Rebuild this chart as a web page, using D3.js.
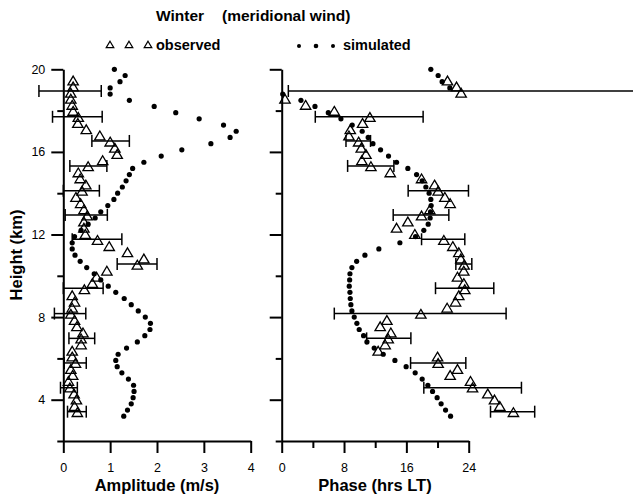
<!DOCTYPE html>
<html>
<head>
<meta charset="utf-8">
<script src="https://cdn.jsdelivr.net/npm/d3@7"></script>
<style>
  html, body { margin: 0; padding: 0; background: #fff; }
  svg { display: block; font-family: "Liberation Sans", Arial, Helvetica, sans-serif; }
</style>
</head>
<body>
<svg id="chart" width="633" height="498"></svg>
<script>
// ---------- data ----------
// simulated profile heights (km)
const simHeights = [20.0, 19.7, 19.4, 19.1, 18.8, 18.5, 18.2, 17.9, 17.6, 17.3,
  17.0, 16.7, 16.4, 16.1, 15.8, 15.5, 15.2, 14.9, 14.6, 14.3,
  14.0, 13.7, 13.4, 13.1, 12.8, 12.5, 12.2, 11.9, 11.6, 11.3,
  11.0, 10.7, 10.4, 10.1, 9.8, 9.5, 9.2, 8.9, 8.6, 8.3,
  8.0, 7.7, 7.4, 7.1, 6.8, 6.5, 6.2, 5.9, 5.6, 5.3,
  5.0, 4.7, 4.4, 4.1, 3.8, 3.5, 3.2];
// simulated amplitude (m/s)
const simAmplitude = [1.09, 1.32, 1.21, 1.00, 1.00, 1.41, 1.94, 2.40, 2.90, 3.42,
  3.69, 3.56, 3.15, 2.53, 2.09, 1.72, 1.48, 1.41, 1.34, 1.26,
  1.16, 1.08, 0.95, 0.80, 0.68, 0.53, 0.38, 0.24, 0.19, 0.19,
  0.25, 0.36, 0.50, 0.66, 0.80, 0.96, 1.12, 1.30, 1.45, 1.60,
  1.75, 1.86, 1.85, 1.74, 1.58, 1.35, 1.17, 1.12, 1.15, 1.25,
  1.39, 1.50, 1.51, 1.49, 1.45, 1.37, 1.29];
// simulated phase (hrs LT)
const simPhase = [19.14, 20.08, 20.59, 21.58, 0.13, 2.47, 4.27, 5.98, 7.60, 9.05,
  10.33, 11.10, 11.71, 12.69, 13.71, 14.74, 16.19, 17.31, 18.03, 18.50,
  18.92, 19.14, 19.18, 19.10, 19.05, 18.80, 18.24, 17.18, 15.17, 12.47,
  10.68, 9.62, 9.01, 8.76, 8.72, 8.67, 8.76, 8.80, 8.88, 9.01,
  9.31, 9.65, 9.95, 10.51, 10.94, 11.87, 13.03, 14.53, 15.97, 17.13,
  18.03, 18.76, 19.36, 19.95, 20.46, 21.03, 21.67];

// observed profile heights (km)
const obsHeights = [19.42, 19.13, 18.83, 18.54, 18.24, 17.95, 17.65, 17.36, 17.06, 16.76,
  16.46, 16.16, 15.86, 15.56, 15.27, 14.97, 14.68, 14.38, 14.08, 13.78,
  13.48, 13.18, 12.88, 12.59, 12.29, 11.99, 11.70, 11.40, 11.10, 10.80,
  10.50, 10.21, 9.92, 9.61, 9.31, 9.02, 8.71, 8.42, 8.12, 7.82,
  7.52, 7.22, 6.93, 6.64, 6.33, 6.05, 5.74, 5.45, 5.16, 4.87,
  4.55, 4.26, 3.97, 3.66, 3.36];
// observed amplitude (m/s)
const obsAmplitude = [0.21, 0.21, 0.16, 0.16, 0.19, 0.21, 0.32, 0.31, 0.49, 0.78,
  1.00, 1.10, 1.15, 0.84, 0.53, 0.32, 0.36, 0.48, 0.40, 0.27,
  0.37, 0.44, 0.51, 0.44, 0.44, 0.47, 0.73, 0.98, 1.37, 1.72,
  1.58, 0.93, 0.71, 0.62, 0.45, 0.19, 0.24, 0.19, 0.16, 0.24,
  0.29, 0.42, 0.38, 0.38, 0.19, 0.19, 0.26, 0.16, 0.20, 0.11,
  0.14, 0.23, 0.28, 0.24, 0.30];
// observed phase (hrs LT)
const obsPhase = [21.28, 22.44, 23.03, 0.42, 3.07, 6.75, 11.32, 10.38, 8.80, 8.63,
  9.87, 10.21, 10.81, 10.29, 11.45, 13.93, 17.95, 19.62, 20.08, 20.94,
  21.62, 19.01, 17.95, 16.19, 14.74, 17.09, 20.81, 21.96, 22.73, 22.99,
  23.41, 23.37, 22.56, 23.37, 23.50, 22.73, 22.31, 21.23, 17.86, 13.50,
  12.64, 14.01, 13.67, 13.28, 12.38, 20.00, 20.08, 22.56, 21.62, 24.23,
  24.49, 26.45, 27.31, 27.99, 29.74];

// error bars
const errHeights = [18.95, 17.70, 16.53, 15.32, 14.12, 12.95, 11.77, 10.57, 9.40, 8.17, 6.97, 5.78, 4.58, 3.42];
const ampErrLow  = [-0.52, -0.23, 0.61, 0.14, 0.00, 0.04, 0.19, 1.15, 0.00, -0.19, 0.12, 0.02, -0.06, 0.09];
const ampErrHigh = [0.81, 0.83, 1.41, 0.93, 0.77, 0.94, 1.25, 2.00, 0.85, 0.48, 0.67, 0.49, 0.30, 0.49];
const phaseErrLow  = [0.85, 4.31, 8.25, 8.46, 16.23, 14.31, 17.95, 22.35, 19.74, 6.75, 10.90, 16.54, 18.24, 26.80];
const phaseErrHigh = [46.0, 18.15, 11.40, 14.40, 23.97, 21.45, 23.50, 24.40, 27.22, 28.80, 16.58, 23.63, 30.77, 32.47];

// ticks
const heightMajorTicks = [4, 8, 12, 16, 20];
const heightMinorTicks = [2, 6, 10, 14, 18];
const ampTicks = [0, 1, 2, 3, 4];
const phaseMajorTicks = [0, 8, 16, 24];
const phaseMinorTicks = [4, 12, 20];

// ---------- drawing ----------
const svg = d3.select("#chart");
svg.append("rect").attr("width", 633).attr("height", 498).attr("fill", "#fff");

const y = d3.scaleLinear().domain([2, 20]).range([441, 69.3]);
const xA = d3.scaleLinear().domain([0, 4]).range([63.3, 250.7]);
const xP = d3.scaleLinear().domain([0, 24]).range([281.7, 468.7]);

const tri = "M0,-5.2L5.2,3.6L-5.2,3.6Z";
const triSmall = "M0,-3.8L3.8,2.6L-3.8,2.6Z";

function styleAxis(g) {
  g.selectAll("path.domain").attr("stroke", "#000").attr("stroke-width", 2);
  g.selectAll(".tick line").attr("stroke", "#000").attr("stroke-width", 2);
  g.selectAll(".tick text").attr("fill", "#000").style("font-size", "12.5px")
    .style("font-family", "'Liberation Sans', Arial, sans-serif");
}

function panel(x, majorX, minorX, showYLabels, simVals, obsVals, errLo, errHi) {
  // y axis
  const yMaj = svg.append("g").attr("transform", `translate(${x.range()[0]},0)`)
    .call(d3.axisLeft(y).tickValues(heightMajorTicks).tickSize(12).tickSizeOuter(0).tickPadding(6)
      .tickFormat(showYLabels ? d3.format("d") : () => ""));
  styleAxis(yMaj);
  const yMin = svg.append("g").attr("transform", `translate(${x.range()[0]},0)`)
    .call(d3.axisLeft(y).tickValues(heightMinorTicks).tickSize(6).tickSizeOuter(0).tickFormat(() => ""));
  styleAxis(yMin);
  yMin.select("path.domain").remove();

  // x axis
  const xMaj = svg.append("g").attr("transform", `translate(0,${y(2)})`)
    .call(d3.axisBottom(x).tickValues(majorX).tickSize(12).tickSizeOuter(0).tickPadding(10).tickFormat(d3.format("d")));
  styleAxis(xMaj);
  if (minorX.length) {
    const xMin = svg.append("g").attr("transform", `translate(0,${y(2)})`)
      .call(d3.axisBottom(x).tickValues(minorX).tickSize(7).tickSizeOuter(0).tickFormat(() => ""));
    styleAxis(xMin);
    xMin.select("path.domain").remove();
  }

  // error bars
  const eb = svg.append("g").attr("stroke", "#000").attr("stroke-width", 1.5).attr("fill", "none");
  errHeights.forEach((h, i) => {
    const yy = y(h), x1 = x(errLo[i]), x2 = x(errHi[i]);
    eb.append("line").attr("x1", x1).attr("x2", x2).attr("y1", yy).attr("y2", yy);
    eb.append("line").attr("x1", x1).attr("x2", x1).attr("y1", yy - 6).attr("y2", yy + 6);
    eb.append("line").attr("x1", x2).attr("x2", x2).attr("y1", yy - 6).attr("y2", yy + 6);
  });

  // observed triangles
  svg.append("g").selectAll("path").data(obsHeights).join("path")
    .attr("d", tri)
    .attr("transform", (h, i) => `translate(${x(obsVals[i])},${y(h)})`)
    .attr("fill", "none").attr("stroke", "#000").attr("stroke-width", 1.3);

  // simulated dots
  svg.append("g").selectAll("circle").data(simHeights).join("circle")
    .attr("cx", (h, i) => x(simVals[i])).attr("cy", h => y(h))
    .attr("r", 2.6).attr("fill", "#000");
}

panel(xA, ampTicks, [], true, simAmplitude, obsAmplitude, ampErrLow, ampErrHigh);
panel(xP, phaseMajorTicks, phaseMinorTicks, false, simPhase, obsPhase, phaseErrLow, phaseErrHigh);

// axis titles
const bold = (sel, size) => sel.attr("font-weight", "bold").attr("font-size", size).attr("fill", "#000");
bold(svg.append("text").attr("x", 157).attr("y", 491).attr("text-anchor", "middle").text("Amplitude (m/s)"), "16.5px");
bold(svg.append("text").attr("x", 375).attr("y", 491).attr("text-anchor", "middle").text("Phase (hrs LT)"), "16.5px");
bold(svg.append("text").attr("transform", "translate(21.5,255) rotate(-90)").attr("text-anchor", "middle").text("Height (km)"), "16.5px");

// title
bold(svg.append("text").attr("x", 156).attr("y", 21).text("Winter"), "15.5px");
bold(svg.append("text").attr("x", 222).attr("y", 21).text("(meridional wind)"), "15.5px");

// legend
const legTri = [110, 129, 148];
svg.append("g").selectAll("path").data(legTri).join("path")
  .attr("d", triSmall).attr("transform", d => `translate(${d},45)`)
  .attr("fill", "none").attr("stroke", "#000").attr("stroke-width", 1.2);
bold(svg.append("text").attr("x", 156).attr("y", 50).text("observed"), "14.5px");
const legDot = [299, 316, 333];
svg.append("g").selectAll("circle").data(legDot).join("circle")
  .attr("cx", d => d).attr("cy", 46).attr("r", (d, i) => i === 1 ? 2.3 : 2).attr("fill", "#000");
bold(svg.append("text").attr("x", 343).attr("y", 50).text("simulated"), "14.5px");
</script>
</body>
</html>
